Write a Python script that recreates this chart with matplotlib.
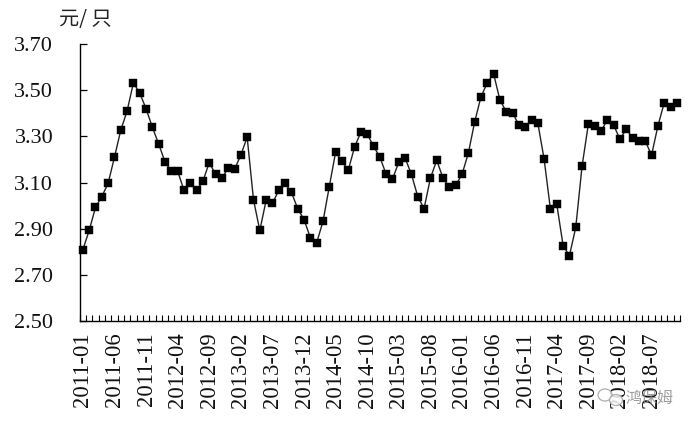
import matplotlib
matplotlib.use("Agg")
import matplotlib.pyplot as plt
from matplotlib.patches import Ellipse

W, H = 695, 428

months = [f"{y}-{m:02d}" for y in range(2011, 2019) for m in range(1, 13)][:95]
prices = [
    2.81, 2.893, 2.993, 3.04, 3.097, 3.21, 3.327, 3.41, 3.532, 3.488,
    3.42, 3.34, 3.267, 3.19, 3.15, 3.15, 3.067, 3.097, 3.067, 3.106,
    3.187, 3.136, 3.118, 3.165, 3.158, 3.219, 3.297, 3.027, 2.893, 3.023,
    3.01, 3.067, 3.097, 3.058, 2.988, 2.94, 2.862, 2.84, 2.932, 3.083,
    3.232, 3.193, 3.154, 3.254, 3.319, 3.31, 3.258, 3.211, 3.136, 3.116,
    3.188, 3.206, 3.136, 3.04, 2.988, 3.119, 3.197, 3.119, 3.081, 3.088,
    3.136, 3.227, 3.362, 3.471, 3.532, 3.571, 3.458, 3.407, 3.403, 3.349,
    3.34, 3.371, 3.358, 3.201, 2.984, 3.006, 2.828, 2.784, 2.906, 3.171,
    3.354, 3.345, 3.323, 3.371, 3.349, 3.288, 3.332, 3.293, 3.28, 3.28,
    3.219, 3.345, 3.445, 3.428, 3.445,
]
y_ticks = [2.5, 2.7, 2.9, 3.1, 3.3, 3.5, 3.7]
unit_label = "元/ 只"
watermark = "鸿保姆"

plt.rcParams["font.family"] = ["Liberation Serif", "Noto Sans CJK SC"]

fig = plt.figure(figsize=(W / 100, H / 100), dpi=100)
ax = fig.add_axes([79.7 / W, 1 - 321.3 / H, 600.3 / W, 277.3 / H])

x = list(range(len(months)))
ax.plot(x, prices, color="#222222", lw=1.0, marker="s", ms=5.2,
        mfc="black", mec="black", mew=0.3, clip_on=False)

ax.set_xlim(-0.5, len(months) - 0.5)
ax.set_ylim(2.5, 3.7)
for side in ("top", "right"):
    ax.spines[side].set_visible(False)
for side in ("left", "bottom"):
    ax.spines[side].set_linewidth(1.0)
    ax.spines[side].set_color("black")

ax.set_yticks(y_ticks)
ax.set_yticklabels([f"{v:.2f}" for v in y_ticks], fontsize=16, color="#111111")
ax.tick_params(axis="y", direction="in", length=4.8, width=0.9, pad=19)

ax.set_xticks(x[::5])
ax.set_xticklabels(months[::5], rotation=90, fontsize=16.3, color="#111111")
ax.tick_params(axis="x", which="major", length=0, pad=8)
ax.set_xticks([i - 0.5 for i in range(len(months) + 1)], minor=True)
ax.tick_params(axis="x", which="minor", direction="in", length=4.5, width=0.8)

fig.text(59 / W, 1 - 20 / H, unit_label, fontsize=14.5, color="#222222",
         family=["Noto Sans CJK SC"], ha="left", va="center")

# Faint watermark in the lower right corner
fig.text(625 / W, 1 - 398 / H, watermark, fontsize=11.5, color="#8c8c8c", alpha=0.85,
         family=["Noto Sans CJK SC"], ha="left", va="center", zorder=5)
for cx, cy, w_, h_ in [(605, 395, 14, 12), (616, 400, 13, 11)]:
    fig.add_artist(Ellipse((cx / W, 1 - cy / H), w_ / W, h_ / H, fc="white",
                           ec="#a0a0a0", lw=0.9, alpha=0.85,
                           transform=fig.transFigure, zorder=5))

fig.savefig("out.png", dpi=100)
